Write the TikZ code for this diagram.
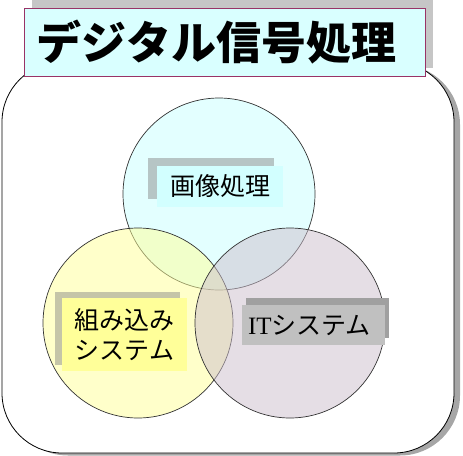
\documentclass[tikz,border=0pt]{standalone}
\usepackage{fontspec}
\newfontfamily\cjk{Noto Sans CJK JP}
\newfontfamily\serifl{Liberation Serif}
\usetikzlibrary{shadows}
\definecolor{titlefill}{RGB}{217,255,255}
\definecolor{titleline}{RGB}{153,51,102}
\definecolor{topc}{RGB}{200,255,255}
\definecolor{leftc}{RGB}{255,255,150}
\definecolor{rightc}{RGB}{205,190,205}
\definecolor{boxcyan}{RGB}{210,255,255}
\definecolor{boxyellow}{RGB}{255,255,153}
\definecolor{boxgrey}{RGB}{192,192,192}
\definecolor{shgrey}{RGB}{160,160,160}
\tikzset{
  frame/.style={draw=black, line width=0.8pt, fill=white, rounded corners=60pt,
    minimum width=452pt, minimum height=391pt, inner sep=0pt,
    general shadow={shadow xshift=6pt, shadow yshift=-2.5pt, fill=gray!70}},
  titlebox/.style={draw=titleline, line width=0.8pt, fill=titlefill,
    minimum width=401pt, minimum height=68pt, inner sep=0pt,
    font=\cjk\bfseries\fontsize{45}{50}\selectfont,
    general shadow={shadow xshift=8pt, shadow yshift=8pt, fill=gray!45}},
  venn/.style={circle, draw=black!80, line width=0.7pt, fill opacity=0.5, text opacity=1, inner sep=0pt},
  lbl/.style={inner sep=0pt, align=center, font=\cjk\fontsize{25}{30}\selectfont}
}
\begin{document}
\begin{tikzpicture}[x=1pt,y=-1pt]
\useasboundingbox (0,0) rectangle (463,455);
\node[frame] (frame) at (228,257.5) {};
\node[titlebox] (title) at (224.5,42) {\hspace*{-16pt}デジタル信号処理};
\node[venn, fill=topc, minimum size=192pt] (ctop) at (219,194) {};
\node[venn, fill=leftc, minimum size=190pt] (cleft) at (138,323) {};
\node[venn, fill=rightc, minimum size=190pt] (cright) at (290,323) {};
\node[lbl, fill=boxcyan, minimum width=126pt, minimum height=41pt,
  general shadow={shadow xshift=-9pt, shadow yshift=8pt, fill=gray, fill opacity=0.45}]
  (limg) at (220,186.5) {画像処理};
\node[lbl, fill=boxyellow, minimum width=125pt, minimum height=73pt,
  general shadow={shadow xshift=-7pt, shadow yshift=6pt, fill=gray, fill opacity=0.45}]
  (lemb) at (124.5,334.5) {組み込み\\システム};
\node[lbl, fill=boxgrey, minimum width=143pt, minimum height=40pt,
  general shadow={shadow xshift=4pt, shadow yshift=7pt, fill=shgrey}]
  (lit) at (313.5,325) {\hspace*{-8pt}{\serifl IT}システム};
\end{tikzpicture}
\end{document}
